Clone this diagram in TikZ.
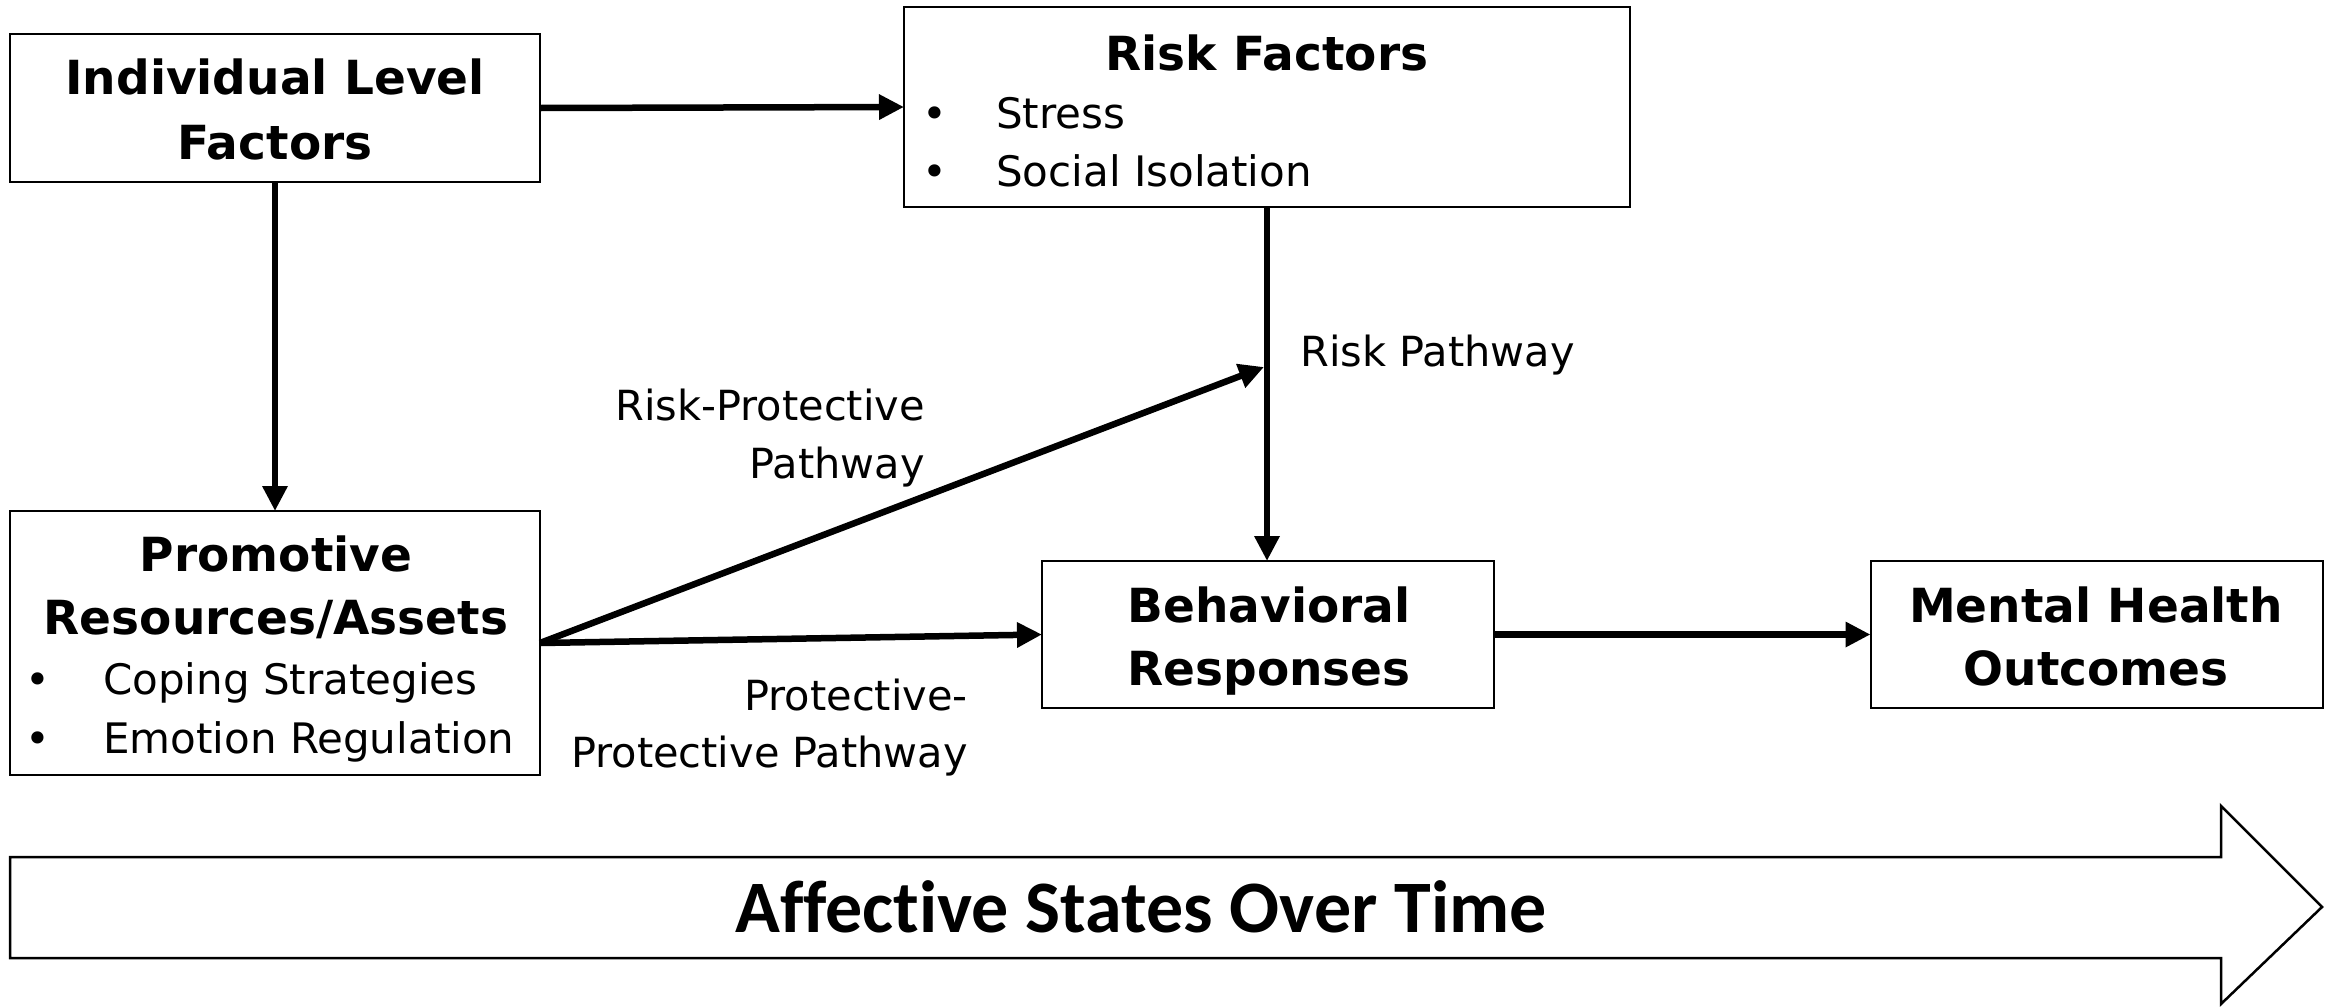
\documentclass[tikz,border=0pt]{standalone}
\usepackage{fontspec}
\setmainfont{DejaVu Sans}
\newfontfamily\bannerfont[Ligatures=NoCommon]{Carlito}
\usetikzlibrary{arrows.meta}

\begin{document}
\begin{tikzpicture}[x=1bp,y=-1bp,
  box/.style={draw=black, line width=2bp, fill=white, inner sep=0pt, outer sep=0pt},
  boxtitle/.style={font=\fontsize{47bp}{56bp}\selectfont\bfseries, anchor=base, inner sep=0pt},
  item/.style={font=\fontsize{42bp}{50bp}\selectfont, anchor=base west, inner sep=0pt},
  dot/.style={font=\fontsize{42bp}{50bp}\selectfont, anchor=base, inner sep=0pt},
  pathtext/.style={font=\fontsize{41.5bp}{50bp}\selectfont, inner sep=0pt},
  conn/.style={line width=6.5bp, -{Triangle[length=25bp,width=24bp]}},
]
\useasboundingbox (0,0) rectangle (2338,1006);

% boxes
\node[box, minimum width=530bp, minimum height=148bp] (ilf) at (275,108) {};
\node[box, minimum width=726bp, minimum height=200bp] (rf)  at (1267,107) {};
\node[box, minimum width=530bp, minimum height=264bp] (pra) at (275,643) {};
\node[box, minimum width=452bp, minimum height=147bp] (br)  at (1268,634.5) {};
\node[box, minimum width=452bp, minimum height=147bp] (mho) at (2096.5,634.5) {};

% box contents
\node[boxtitle] (ilf1) at (275,94)  {Individual Level};
\node[boxtitle] (ilf2) at (275,159) {Factors};

\node[boxtitle] (rft) at (1267,70) {Risk Factors};
\node[dot]  (rfd1) at (935,128) {•};
\node[item] (rfi1) at (996,128) {Stress};
\node[dot]  (rfd2) at (935,186) {•};
\node[item] (rfi2) at (996,186) {Social Isolation};

\node[boxtitle] (pra1) at (276,571) {Promotive};
\node[boxtitle] (pra2) at (276,634) {Resources/Assets};
\node[dot]  (prd1) at (38,694)  {•};
\node[item] (pri1) at (103,694) {Coping Strategies};
\node[dot]  (prd2) at (38,753)  {•};
\node[item] (pri2) at (103,753) {Emotion Regulation};

\node[boxtitle] (br1) at (1269,622) {Behavioral};
\node[boxtitle] (br2) at (1269,685) {Responses};

\node[boxtitle] (mho1) at (2096,622) {Mental Health};
\node[boxtitle] (mho2) at (2096,685) {Outcomes};

% connectors
\coordinate (join) at (1264,367);
\draw[conn] (ilf.east) -- (rf.west);
\draw[conn] (ilf.south) -- (pra.north);
\draw[conn] (pra.east) -- (join);
\draw[conn] (pra.east) -- (br.west);
\draw[conn] (rf.south) -- (rf.south |- br.north);
\draw[conn] (br.east) -- (mho.west);

% pathway labels
\node[pathtext, anchor=base west] (rp) at (1300,366) {Risk Pathway};
\node[pathtext, anchor=base east] (rpp1) at (925,420) {Risk-Protective};
\node[pathtext, anchor=base east] (rpp2) at (925,478) {Pathway};
\node[pathtext, anchor=base east] (ppp1) at (968,710) {Protective-};
\node[pathtext, anchor=base east] (ppp2) at (968,767) {Protective Pathway};

% time arrow
\draw[line width=2.5bp, line join=miter, fill=white]
  (10,857) -- (2221,857) -- (2221,806) -- (2322,907) -- (2221,1004)
  -- (2221,958) -- (10,958) -- cycle;
\node[font=\bannerfont\bfseries\fontsize{74bp}{88bp}\selectfont, anchor=base, inner sep=0pt]
  (time) at (1141,932) {Affective States Over Time};
\end{tikzpicture}
\end{document}
